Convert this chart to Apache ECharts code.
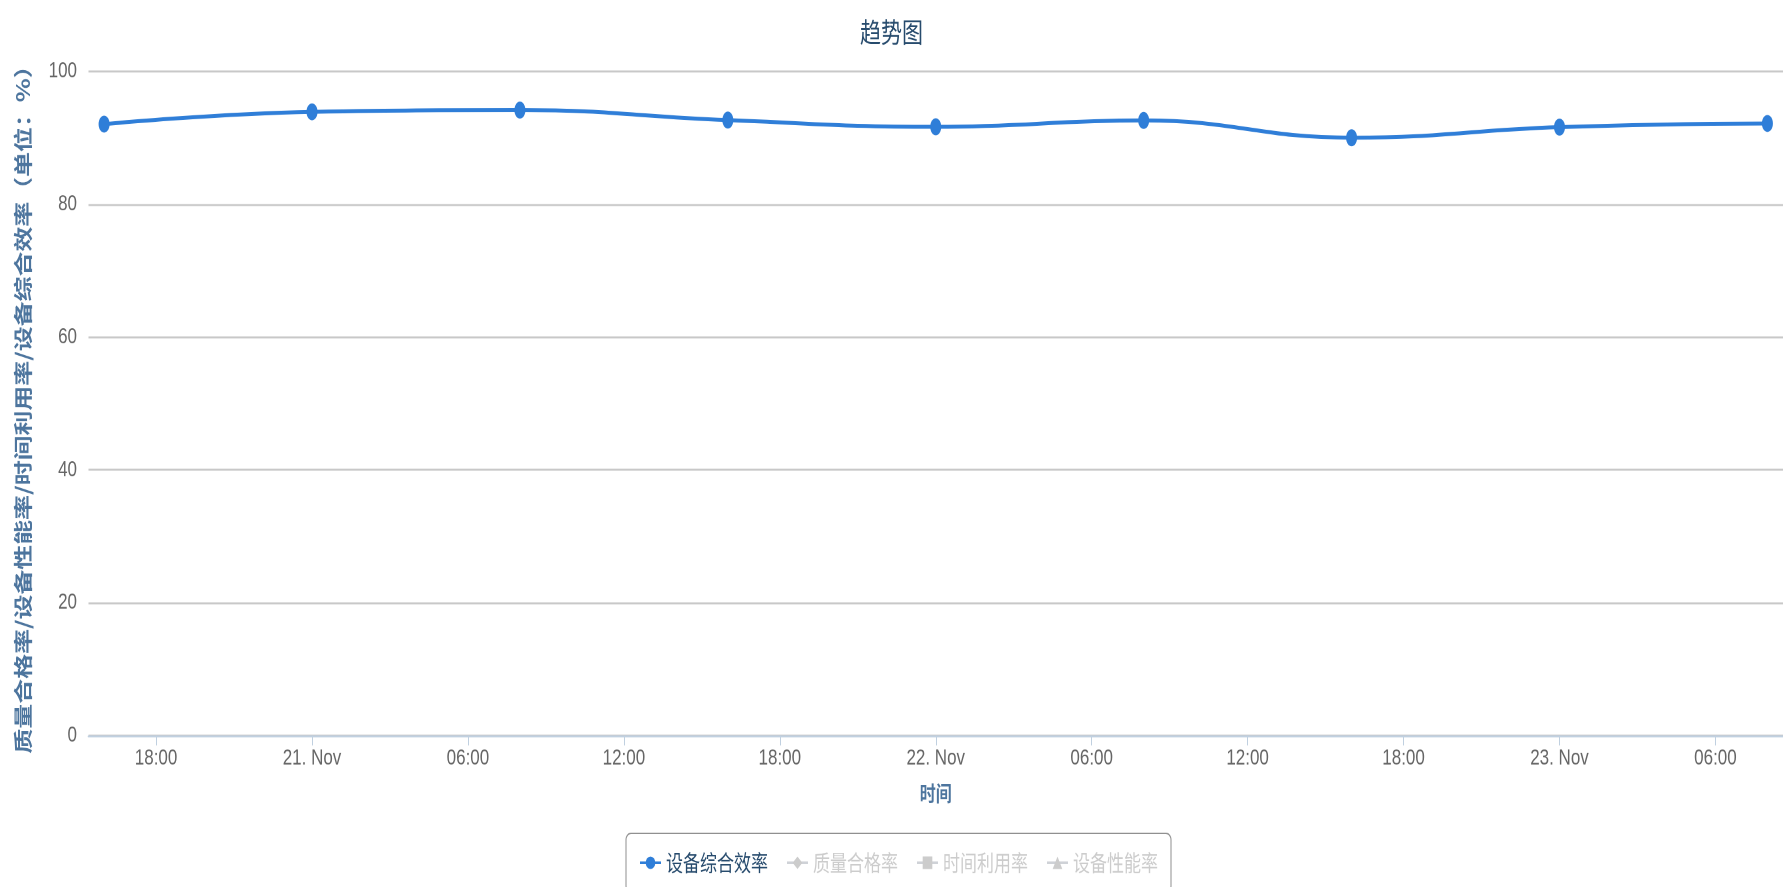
<!DOCTYPE html>
<html>
<head>
<meta charset="utf-8">
<title>趋势图</title>
<script src="https://cdn.jsdelivr.net/npm/echarts@6/dist/echarts.min.js"></script>
<style>
  html, body { margin: 0; padding: 0; background: #fff; overflow: hidden; }
  #wrap { width: 1783px; height: 887px; overflow: hidden; }
  /* chart is laid out on a shorter canvas and stretched vertically */
  #chart { width: 1783px; height: 677px; transform-origin: 0 0; transform: scaleY(1.3102); }
</style>
</head>
<body>
<div id="wrap"><div id="chart"></div></div>
<script>
// sample times (local time) and OEE values (%)
var times = [
  '2013-11-20 16:00', '2013-11-21 00:00', '2013-11-21 08:00',
  '2013-11-21 16:00', '2013-11-22 00:00', '2013-11-22 08:00',
  '2013-11-22 16:00', '2013-11-23 00:00', '2013-11-23 08:00'
];
var oeeValues = [92.05, 93.9, 94.15, 92.65, 91.65, 92.6, 90.0, 91.6, 92.15];
// the other three series are switched off in the legend
var qualityValues = [];
var availabilityValues = [];
var performanceValues = [];

// x-axis tick times and their labels
var xTickTimes = [
  '2013-11-20 18:00', '2013-11-21 00:00', '2013-11-21 06:00', '2013-11-21 12:00',
  '2013-11-21 18:00', '2013-11-22 00:00', '2013-11-22 06:00', '2013-11-22 12:00',
  '2013-11-22 18:00', '2013-11-23 00:00', '2013-11-23 06:00'
];
var xTickLabels = [
  '18:00', '21. Nov', '06:00', '12:00', '18:00', '22. Nov',
  '06:00', '12:00', '18:00', '23. Nov', '06:00'
];
var yTicks = { min: 0, max: 100, step: 20 };

var seriesNames = ['设备综合效率', '质量合格率', '时间利用率', '设备性能率'];

// times are placed on the x axis as hours after the first tick time
function parseTime(s) {
  var p = s.split(/[- :]/).map(Number);
  return new Date(p[0], p[1] - 1, p[2], p[3], p[4]).getTime();
}
var HOUR = 3600 * 1000;
var origin = parseTime(xTickTimes[0]);
function toHours(s) { return Math.round((parseTime(s) - origin) / HOUR * 1000) / 1000; }

var t = times.map(toHours);
var tickT = xTickTimes.map(toHours);
var edgePad = 0.6;

var labelFont = '"Liberation Sans", "Noto Sans CJK SC", sans-serif';
var cjkFont = '"Noto Sans CJK SC", "Liberation Sans", sans-serif';

function pairs(vals) {
  return vals.map(function (v, i) { return [t[i], v]; });
}

var chart = echarts.init(document.getElementById('chart'), null, { width: 1783, height: 677, devicePixelRatio: 2 });

var selected = {};
seriesNames.forEach(function (n, i) { selected[n] = i === 0; });

chart.setOption({
  animation: false,
  backgroundColor: '#ffffff',
  title: {
    text: '趋势图',
    left: 'center',
    top: 9,
    textStyle: { fontFamily: cjkFont, fontSize: 21, fontWeight: 'normal', color: '#274b6d' }
  },
  legend: {
    left: 626,
    top: 636,
    padding: [14, 13, 14, 13],
    borderColor: '#909090',
    borderWidth: 1,
    borderRadius: 5,
    itemWidth: 21,
    itemHeight: 12,
    itemGap: 18,
    inactiveColor: '#cccccc',
    selected: selected,
    data: seriesNames,
    textStyle: { fontFamily: cjkFont, fontSize: 17, color: '#274b6d' }
  },
  grid: { left: 88.5, right: -2, top: 54.4, bottom: 115.6 },
  xAxis: {
    type: 'value',
    min: t[0] - edgePad,
    max: t[t.length - 1] + edgePad,
    name: '时间',
    nameLocation: 'middle',
    nameGap: 36,
    nameTextStyle: { fontFamily: cjkFont, fontSize: 16, fontWeight: 'bold', color: '#4d759e' },
    axisLine: { lineStyle: { color: '#c0d0e0', width: 1.6 } },
    axisTick: { show: true, length: 7.5, customValues: tickT, lineStyle: { color: '#c0d0e0', width: 1 } },
    splitLine: { show: false },
    axisLabel: {
      margin: 9,
      fontFamily: labelFont,
      fontSize: 17,
      color: '#666666',
      hideOverlap: false,
      showMinLabel: true,
      showMaxLabel: true,
      customValues: tickT,
      formatter: function (value) {
        var best = -1, bestD = 1e9;
        tickT.forEach(function (v, i) {
          var d = Math.abs(v - value);
          if (d < bestD) { bestD = d; best = i; }
        });
        return bestD < 0.01 ? xTickLabels[best] : '';
      }
    }
  },
  yAxis: {
    type: 'value',
    min: yTicks.min,
    max: yTicks.max,
    interval: yTicks.step,
    name: '质量合格率/设备性能率/时间利用率/设备综合效率（单位：%）',
    nameLocation: 'middle',
    nameRotate: 90,
    nameGap: 56,
    nameTextStyle: { fontFamily: cjkFont, fontSize: 19, fontWeight: 'bold', color: '#4d759e' },
    axisLine: { show: false },
    axisTick: { show: false },
    axisLabel: { margin: 11.5, fontFamily: labelFont, fontSize: 17, color: '#666666' },
    splitLine: { lineStyle: { color: '#c8c8c8', width: 1.4 } }
  },
  series: [
    {
      name: seriesNames[0], type: 'line', smooth: 0.45,
      data: pairs(oeeValues),
      symbol: 'circle', symbolSize: [11, 13],
      itemStyle: { color: '#2f7ed8' },
      lineStyle: { color: '#2f7ed8', width: 3 }
    },
    { name: seriesNames[1], type: 'line', smooth: 0.45, data: pairs(qualityValues), symbol: 'diamond', itemStyle: { color: '#0d233a' } },
    { name: seriesNames[2], type: 'line', smooth: 0.45, data: pairs(availabilityValues), symbol: 'rect', itemStyle: { color: '#8bbc21' } },
    { name: seriesNames[3], type: 'line', smooth: 0.45, data: pairs(performanceValues), symbol: 'triangle', itemStyle: { color: '#910000' } }
  ]
});
</script>
</body>
</html>
